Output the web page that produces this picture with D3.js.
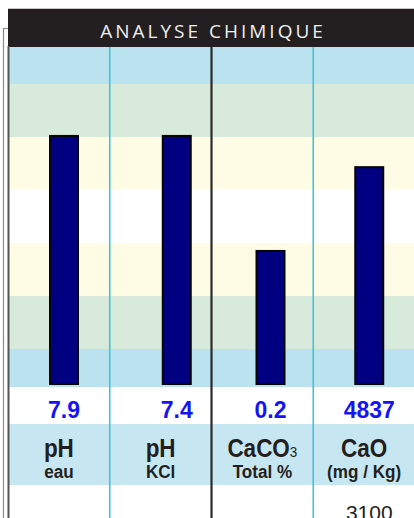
<!DOCTYPE html>
<html>
<head>
<meta charset="utf-8">
<script src="https://cdn.jsdelivr.net/npm/d3@7"></script>
<style>
  body { margin: 0; background: #fff; }
  svg { display: block; }
</style>
</head>
<body>
<script>
// chart data
var columns = ["pHeau", "pHkcl", "caco3", "cao"];
var values = ["7.9", "7.4", "0.2", "4837"];
// bar height read as position on the interpretation scale (0 = bottom, 7 = top)
var levels = [5.02, 5.02, 2.85, 4.42];
var mainLabels = ["pH", "pH", "CaCO", "CaO"];
var subscripts = ["", "", "3", ""];
var subLabels = ["eau", "KCl", "Total %", "(mg / Kg)"];
var refValues = ["", "", "", "3100"];
var bandColors = ["#bae3ef", "#d8eadb", "#fffce6", "#ffffff", "#fffce6", "#d8eadb", "#bae3ef"];

var svgWidth = 414, svgHeight = 518;
var svg = d3.select("body").append("svg")
  .attr("width", svgWidth)
  .attr("height", svgHeight);

// layout
var barShift = [42, 53, 45, 42];
var barWidth = 28;
var condense = 0.9;

var x = d3.scaleBand().domain(columns).range([8, 415]);
// piecewise scale: each interpretation band has its own pixel height
var y = d3.scaleLinear()
  .domain([0, 1, 2, 3, 4, 5, 6, 7])
  .range([387, 349, 296, 243, 189, 137, 84, 47]);

//background bands
svg.selectAll("rect.band")
  .data(bandColors)
  .enter().append("rect")
    .attr("class", "band")
    .attr("x", 9)
    .attr("width", svgWidth - 9)
    .attr("y", function(d, i){ return y(i + 1); })
    .attr("height", function(d, i){ return y(i) - y(i + 1); })
    .attr("fill", function(d){ return d; });

//label row
svg.append("rect")
  .attr("x", 9).attr("y", 424)
  .attr("width", svgWidth - 9).attr("height", 61)
  .attr("fill", "#c6e6f1");

//header
svg.append("line")
  .attr("x1", 8).attr("x2", svgWidth).attr("y1", 8.5).attr("y2", 8.5)
  .attr("stroke", "#c8c8c8").attr("stroke-width", 1);
svg.append("rect")
  .attr("x", 8).attr("y", 9)
  .attr("width", svgWidth - 8).attr("height", 38)
  .attr("fill", "#231f20");
svg.append("text")
  .attr("x", 213).attr("y", 38)
  .attr("text-anchor", "middle")
  .attr("fill", "#eeeeee")
  .style("font-family", "'Open Sans', sans-serif")
  .style("font-size", "19px")
  .style("letter-spacing", "3px")
  .text("ANALYSE CHIMIQUE");

//left frame
svg.append("path")
  .attr("d", "M8,28.5H3.5V" + svgHeight)
  .attr("fill", "none")
  .attr("stroke", "#8a8a8a").attr("stroke-width", 1.2);
svg.append("line")
  .attr("x1", 8.5).attr("x2", 8.5).attr("y1", 46).attr("y2", svgHeight)
  .attr("stroke", "#555").attr("stroke-width", 2);

//column dividers
var dividerStyle = [["#45c0d9", 1.6], ["#2a2a2a", 2.2], ["#45c0d9", 1.6]];
svg.selectAll("line.divider")
  .data(columns.slice(1))
  .enter().append("line")
    .attr("class", "divider")
    .attr("x1", function(d){ return x(d); })
    .attr("x2", function(d){ return x(d); })
    .attr("y1", 47).attr("y2", svgHeight)
    .attr("stroke", function(d, i){ return dividerStyle[i][0]; })
    .attr("stroke-width", function(d, i){ return dividerStyle[i][1]; });

//bars
function barCenter(i){ return x(columns[i]) + barShift[i] + barWidth / 2; }
function colCenter(i){ return x(columns[i]) + x.bandwidth() / 2; }

svg.selectAll("rect.bar")
  .data(levels)
  .enter().append("rect")
    .attr("class", "bar")
    .attr("x", function(d, i){ return barCenter(i) - barWidth / 2; })
    .attr("width", barWidth)
    .attr("y", function(d){ return y(d); })
    .attr("height", function(d){ return y(0) - 3 - y(d); })
    .attr("fill", "#000080")
    .attr("stroke", "#050505")
    .attr("stroke-width", 2);

//values
svg.selectAll("text.value")
  .data(values)
  .enter().append("text")
    .attr("class", "value")
    .attr("x", function(d, i){ return barCenter(i); })
    .attr("y", 418)
    .attr("text-anchor", "middle")
    .attr("fill", "#1414f5")
    .style("font-family", "'Liberation Sans', Arial, sans-serif")
    .style("font-weight", "bold")
    .style("font-size", "23px")
    .text(function(d){ return d; });

//labels (slightly condensed type as in the original print)
var main = svg.selectAll("text.main")
  .data(mainLabels)
  .enter().append("text")
    .attr("class", "main")
    .attr("transform", function(d, i){
      return "translate(" + colCenter(i) + ",457) scale(" + condense + ",1)";
    })
    .attr("text-anchor", "middle")
    .attr("fill", "#231f20")
    .style("font-family", "'Liberation Sans', Arial, sans-serif")
    .style("font-weight", "bold")
    .style("font-size", "25px");
main.append("tspan").text(function(d){ return d; });
main.append("tspan")
  .style("font-size", "15px")
  .style("font-weight", "normal")
  .text(function(d, i){ return subscripts[i]; });

svg.selectAll("text.sub")
  .data(subLabels)
  .enter().append("text")
    .attr("class", "sub")
    .attr("transform", function(d, i){
      return "translate(" + colCenter(i) + ",478) scale(" + condense + ",1)";
    })
    .attr("text-anchor", "middle")
    .attr("fill", "#231f20")
    .style("font-family", "'Liberation Sans', Arial, sans-serif")
    .style("font-weight", "bold")
    .style("font-size", "19px")
    .text(function(d){ return d; });

//reference row
svg.selectAll("text.ref")
  .data(refValues)
  .enter().append("text")
    .attr("class", "ref")
    .attr("x", function(d, i){ return barCenter(i); })
    .attr("y", 520)
    .attr("text-anchor", "middle")
    .attr("fill", "#222")
    .style("font-family", "'Liberation Sans', Arial, sans-serif")
    .style("font-size", "21px")
    .text(function(d){ return d; });
</script>
</body>
</html>
